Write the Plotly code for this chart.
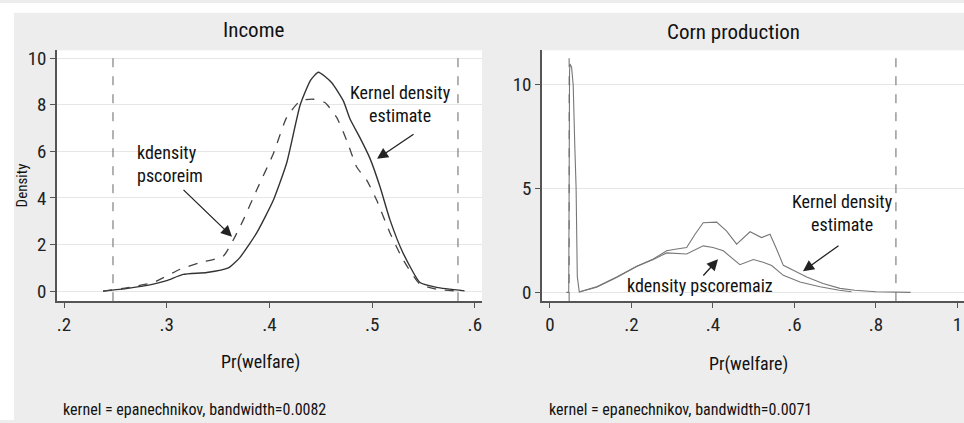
import plotly.graph_objects as go

FONT = "Roboto Condensed, Liberation Sans Narrow, DejaVu Sans Condensed, Roboto, sans-serif"

# ---------------- data: Income panel ----------------
inc_kde_x = [0.238, 0.262, 0.287, 0.300, 0.316, 0.339, 0.360, 0.371, 0.3876, 0.4038, 0.4168,
             0.430, 0.440, 0.4477, 0.4607, 0.472, 0.4785, 0.488, 0.498, 0.5077, 0.5174,
             0.530, 0.5466, 0.5629, 0.590]
inc_kde_y = [0.0, 0.12, 0.30, 0.45, 0.72, 0.80, 1.00, 1.43, 2.50, 3.90, 5.50,
             8.00, 9.05, 9.40, 8.95, 8.17, 7.39, 6.60, 5.69, 4.48, 3.06,
             1.65, 0.37, 0.16, 0.01]

inc_ps_x = [0.238, 0.262, 0.287, 0.313, 0.3324, 0.355, 0.3633, 0.3746, 0.3876, 0.4038, 0.4168,
            0.430, 0.4427, 0.454, 0.4655, 0.4753, 0.485, 0.4947, 0.5045, 0.5174, 0.530,
            0.5466, 0.563, 0.582]
inc_ps_y = [0.0, 0.15, 0.37, 0.94, 1.22, 1.50, 2.07, 3.06, 4.34, 5.90, 7.46,
            8.17, 8.24, 8.10, 7.46, 6.47, 5.33, 4.77, 3.90, 2.50, 1.36,
            0.30, 0.08, 0.01]

inc_support = [0.2477, 0.5836]

# ---------------- data: Corn production panel ----------------
corn_kde_x = [0.0736, 0.1145, 0.1636, 0.2127, 0.2536, 0.2863, 0.311, 0.3354, 0.356, 0.376,
              0.409, 0.4335, 0.458, 0.491, 0.519, 0.540, 0.556, 0.5726, 0.597, 0.630,
              0.670, 0.7117, 0.748, 0.800, 0.885]
corn_kde_y = [0.03, 0.27, 0.74, 1.26, 1.61, 2.00, 2.09, 2.16, 2.80, 3.35,
              3.38, 2.95, 2.32, 2.92, 2.64, 2.80, 2.09, 1.30, 1.06, 0.74,
              0.43, 0.19, 0.10, 0.03, 0.0]

corn_ps_x = [0.040, 0.046, 0.048, 0.049, 0.053, 0.057, 0.061, 0.064, 0.067, 0.072,
             0.0736, 0.1145, 0.1636, 0.2127, 0.2536, 0.2863, 0.3354, 0.376, 0.400, 0.4254,
             0.466, 0.499, 0.523, 0.544, 0.5726, 0.6135, 0.6626, 0.710, 0.740]
corn_ps_y = [0.0, 0.0, 10.6, 11.0, 10.85, 9.98, 6.98, 5.10, 0.76, 0.0,
             0.03, 0.25, 0.72, 1.24, 1.58, 1.90, 1.85, 2.24, 2.16, 2.00,
             1.33, 1.58, 1.45, 1.29, 0.82, 0.50, 0.27, 0.10, 0.03]

corn_support = [0.047, 0.849]

inc_xticks = [0.2, 0.3, 0.4, 0.5, 0.6]
inc_xticktext = [".2", ".3", ".4", ".5", ".6"]
inc_yticks = [0, 2, 4, 6, 8, 10]
corn_xticks = [0, 0.2, 0.4, 0.6, 0.8, 1.0]
corn_xticktext = ["0", ".2", ".4", ".6", ".8", "1"]
corn_yticks = [0, 5, 10]

W, H = 964, 423

def px(x):
    return x / W

def py(y):
    return 1 - y / H

fig = go.Figure()

fig.add_trace(go.Scatter(x=inc_kde_x, y=inc_kde_y, mode="lines",
                         line=dict(color="#333333", width=1.4, shape="spline", smoothing=0.5),
                         xaxis="x", yaxis="y", showlegend=False))
fig.add_trace(go.Scatter(x=inc_ps_x, y=inc_ps_y, mode="lines",
                         line=dict(color="#444444", width=1.3, dash="dash", shape="spline", smoothing=0.5),
                         xaxis="x", yaxis="y", showlegend=False))
fig.add_trace(go.Scatter(x=corn_kde_x, y=corn_kde_y, mode="lines",
                         line=dict(color="#777777", width=1.1),
                         xaxis="x2", yaxis="y2", showlegend=False))
fig.add_trace(go.Scatter(x=corn_ps_x, y=corn_ps_y, mode="lines",
                         line=dict(color="#777777", width=1.1),
                         xaxis="x2", yaxis="y2", showlegend=False))

shapes = [
    dict(type="rect", xref="paper", yref="paper", x0=0, x1=1, y0=py(10), y1=1,
         fillcolor="white", line=dict(width=0), layer="below"),
    dict(type="rect", xref="paper", yref="paper", x0=0, x1=px(14), y0=0, y1=1,
         fillcolor="white", line=dict(width=0), layer="below"),
]
for v in inc_support:
    shapes.append(dict(type="line", xref="x", yref="y domain", x0=v, x1=v, y0=0, y1=1,
                       line=dict(color="#666666", width=1, dash="dash")))
for v in corn_support:
    shapes.append(dict(type="line", xref="x2", yref="y2 domain", x0=v, x1=v, y0=0, y1=1,
                       line=dict(color="#666666", width=1, dash="dash")))

tickfont = dict(family=FONT, size=19, color="#222222")
axis_common = dict(showline=True, linecolor="#555555", linewidth=1.5, ticks="outside",
                   ticklen=5, tickcolor="#555555", tickwidth=1, zeroline=False,
                   tickfont=tickfont, fixedrange=True)

y_top, y_bot = py(48), py(302.5)

fig.update_layout(
    width=W, height=H,
    margin=dict(l=0, r=0, t=0, b=0),
    paper_bgcolor="#ededed",
    plot_bgcolor="white",
    xaxis=dict(domain=[px(57), px(482)], range=[0.19318, 0.6070], tickvals=inc_xticks,
               ticktext=inc_xticktext, showgrid=False, anchor="y", **axis_common),
    yaxis=dict(domain=[y_bot, y_top], range=[-0.432, 10.34], tickvals=inc_yticks,
               showgrid=True, gridcolor="#e6e6e6", gridwidth=1, anchor="x", **axis_common),
    xaxis2=dict(domain=[px(542), 1.0], range=[-0.0196, 1.016], tickvals=corn_xticks,
                ticktext=corn_xticktext, showgrid=False, anchor="y2", **axis_common),
    yaxis2=dict(domain=[y_bot, y_top], range=[-0.4275, 11.66], tickvals=corn_yticks,
                showgrid=True, gridcolor="#e6e6e6", gridwidth=1, anchor="x2", **axis_common),
    shapes=shapes,
)

txt = dict(family=FONT, color="#111111")
C = dict(xanchor="center", yanchor="middle", showarrow=False)
ann = []
# titles
ann.append(dict(text="Income", x=px(253), y=py(27), xref="paper", yref="paper",
                font=dict(size=21, **txt), **C))
ann.append(dict(text="Corn production", x=px(733), y=py(29), xref="paper", yref="paper",
                font=dict(size=21, **txt), **C))
# axis titles
ann.append(dict(text="Density", x=px(22), y=py(185), xref="paper", yref="paper",
                textangle=-90, font=dict(size=15, **txt), **C))
ann.append(dict(text="Pr(welfare)", x=px(260), y=py(364), xref="paper", yref="paper",
                font=dict(size=18, **txt), **C))
ann.append(dict(text="Pr(welfare)", x=px(748), y=py(366), xref="paper", yref="paper",
                font=dict(size=18, **txt), **C))
# notes
ann.append(dict(text="kernel = epanechnikov, bandwidth=0.0082", x=px(61), y=py(412),
                xref="paper", yref="paper", xanchor="left", yanchor="middle",
                showarrow=False, font=dict(size=16, **txt)))
ann.append(dict(text="kernel = epanechnikov, bandwidth=0.0071", x=px(547), y=py(412),
                xref="paper", yref="paper", xanchor="left", yanchor="middle",
                showarrow=False, font=dict(size=16, **txt)))

# in-plot labels and arrows (data coordinates)
ARW = dict(showarrow=True, arrowhead=2, arrowsize=1.7, arrowwidth=1.3, arrowcolor="#222222")
ann.append(dict(text="Kernel density<br>estimate", x=0.5272, y=8.05, xref="x", yref="y",
                font=dict(size=18, **txt), **C))
ann.append(dict(text="", x=0.5048, y=5.68, ax=0.5418, ay=6.78, xref="x", yref="y",
                axref="x", ayref="y", **ARW))
ann.append(dict(text="kdensity<br>pscoreim", x=0.2691, y=5.47, xref="x", yref="y",
                xanchor="left", yanchor="middle", align="left", showarrow=False,
                font=dict(size=18, **txt)))
ann.append(dict(text="", x=0.3636, y=2.34, ax=0.3149, ay=4.41, xref="x", yref="y",
                axref="x", ayref="y", **ARW))

ann.append(dict(text="Kernel density<br>estimate", x=0.719, y=3.82, xref="x2", yref="y2",
                font=dict(size=18, **txt), **C))
ann.append(dict(text="", x=0.6209, y=1.02, ax=0.7117, ay=2.30, xref="x2", yref="y2",
                axref="x2", ayref="y2", **ARW))
ann.append(dict(text="kdensity pscoremaiz", x=0.368, y=0.31, xref="x2", yref="y2",
                font=dict(size=18, **txt), **C))
ann.append(dict(text="", x=0.4123, y=1.59, ax=0.373, ay=0.736, xref="x2", yref="y2",
                axref="x2", ayref="y2", **ARW))

fig.update_layout(annotations=ann)

fig.write_html("out.html", config=dict(displayModeBar=False),
               post_script="document.body.style.margin='0px';document.body.style.overflow='hidden';")
